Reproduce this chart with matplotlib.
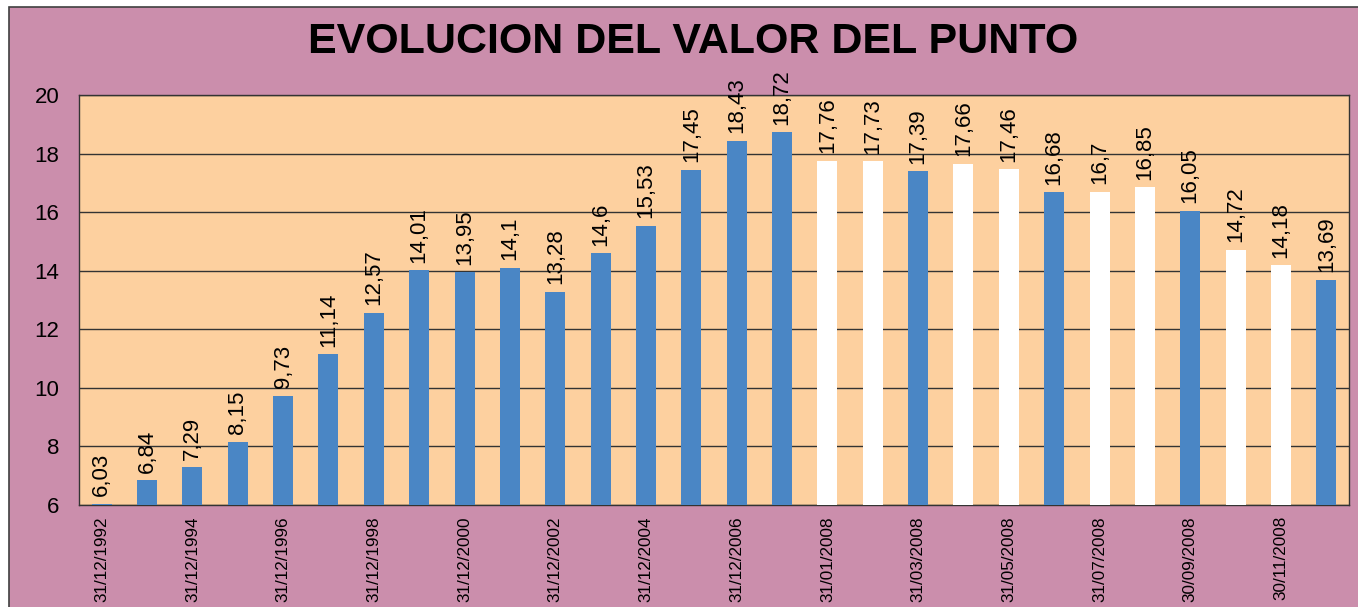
import matplotlib
matplotlib.use('agg')
import matplotlib.pyplot as plt
from matplotlib.patches import Rectangle
import numpy as np

# fechas de cierre y valor del punto
fechas = ["31/12/1992", "31/12/1993", "31/12/1994", "31/12/1995", "31/12/1996", "31/12/1997",
          "31/12/1998", "31/12/1999", "31/12/2000", "31/12/2001", "31/12/2002", "31/12/2003",
          "31/12/2004", "31/12/2005", "31/12/2006", "31/12/2007",
          "31/01/2008", "29/02/2008", "31/03/2008", "30/04/2008", "31/05/2008", "30/06/2008",
          "31/07/2008", "31/08/2008", "30/09/2008", "31/10/2008", "30/11/2008", "31/12/2008"]
valores = [6.03, 6.84, 7.29, 8.15, 9.73, 11.14, 12.57, 14.01, 13.95, 14.1, 13.28, 14.6,
           15.53, 17.45, 18.43, 18.72, 17.76, 17.73, 17.39, 17.66, 17.46, 16.68, 16.7,
           16.85, 16.05, 14.72, 14.18, 13.69]
# cierres trimestrales / anuales en azul, resto en blanco
trimestral = [True] * 16 + [False, False, True, False, False, True,
                            False, False, True, False, False, True]

ROSA = "#cb8eac"
MELOCOTON = "#fdd09f"
AZUL = "#4a86c5"

plt.rcParams['font.family'] = ['Liberation Sans', 'DejaVu Sans']

fig = plt.figure(figsize=(13.58, 6.07), dpi=100)
fig.patch.set_facecolor("white")
W, H = 1358.0, 607.0
fondo = Rectangle((9 / W, -0.01), 1.0, 1 - 7 / H + 0.01, transform=fig.transFigure,
                  facecolor=ROSA, edgecolor="#404040", linewidth=1.2)
fig.add_artist(fondo)
fondo.set_zorder(-10)

ax = fig.add_axes([79 / W, 1 - 505 / H, 1270 / W, 410 / H])
ax.set_zorder(1)
ax.set_facecolor(MELOCOTON)

x = np.arange(len(valores))
colores = [AZUL if t else "white" for t in trimestral]
ax.bar(x, np.array(valores) - 6, bottom=6, width=0.44, color=colores, zorder=3)

for xi, v in zip(x, valores):
    etiqueta = ("%g" % v).replace(".", ",")
    ax.annotate(etiqueta, (xi, v), xytext=(0, 5.5), textcoords="offset points",
                rotation=90, ha="center", va="bottom", fontsize=16, zorder=4,
                annotation_clip=False)

ax.set_xlim(-0.5, len(valores) - 0.5)
ax.set_ylim(6, 20)
ax.set_yticks(np.arange(6, 21, 2))
ax.yaxis.grid(True, color="#333333", linewidth=1.0, zorder=1)
ax.set_axisbelow(True)
ax.set_xticks(x[::2])
ax.set_xticklabels(fechas[::2], rotation=90, fontsize=12.3)
ax.tick_params(axis="y", length=0, pad=14, labelsize=16)
ax.tick_params(axis="x", length=0, pad=8)
for s in ax.spines.values():
    s.set_color("#333333")
    s.set_linewidth(1.0)

titulo = fig.text(693 / W, 1 - 42 / H, "EVOLUCION DEL VALOR DEL PUNTO", ha="center", va="center",
                  fontsize=31, fontweight="bold")
titulo.set_zorder(5)

fig.savefig("out.png", dpi=100, facecolor=fig.get_facecolor())
